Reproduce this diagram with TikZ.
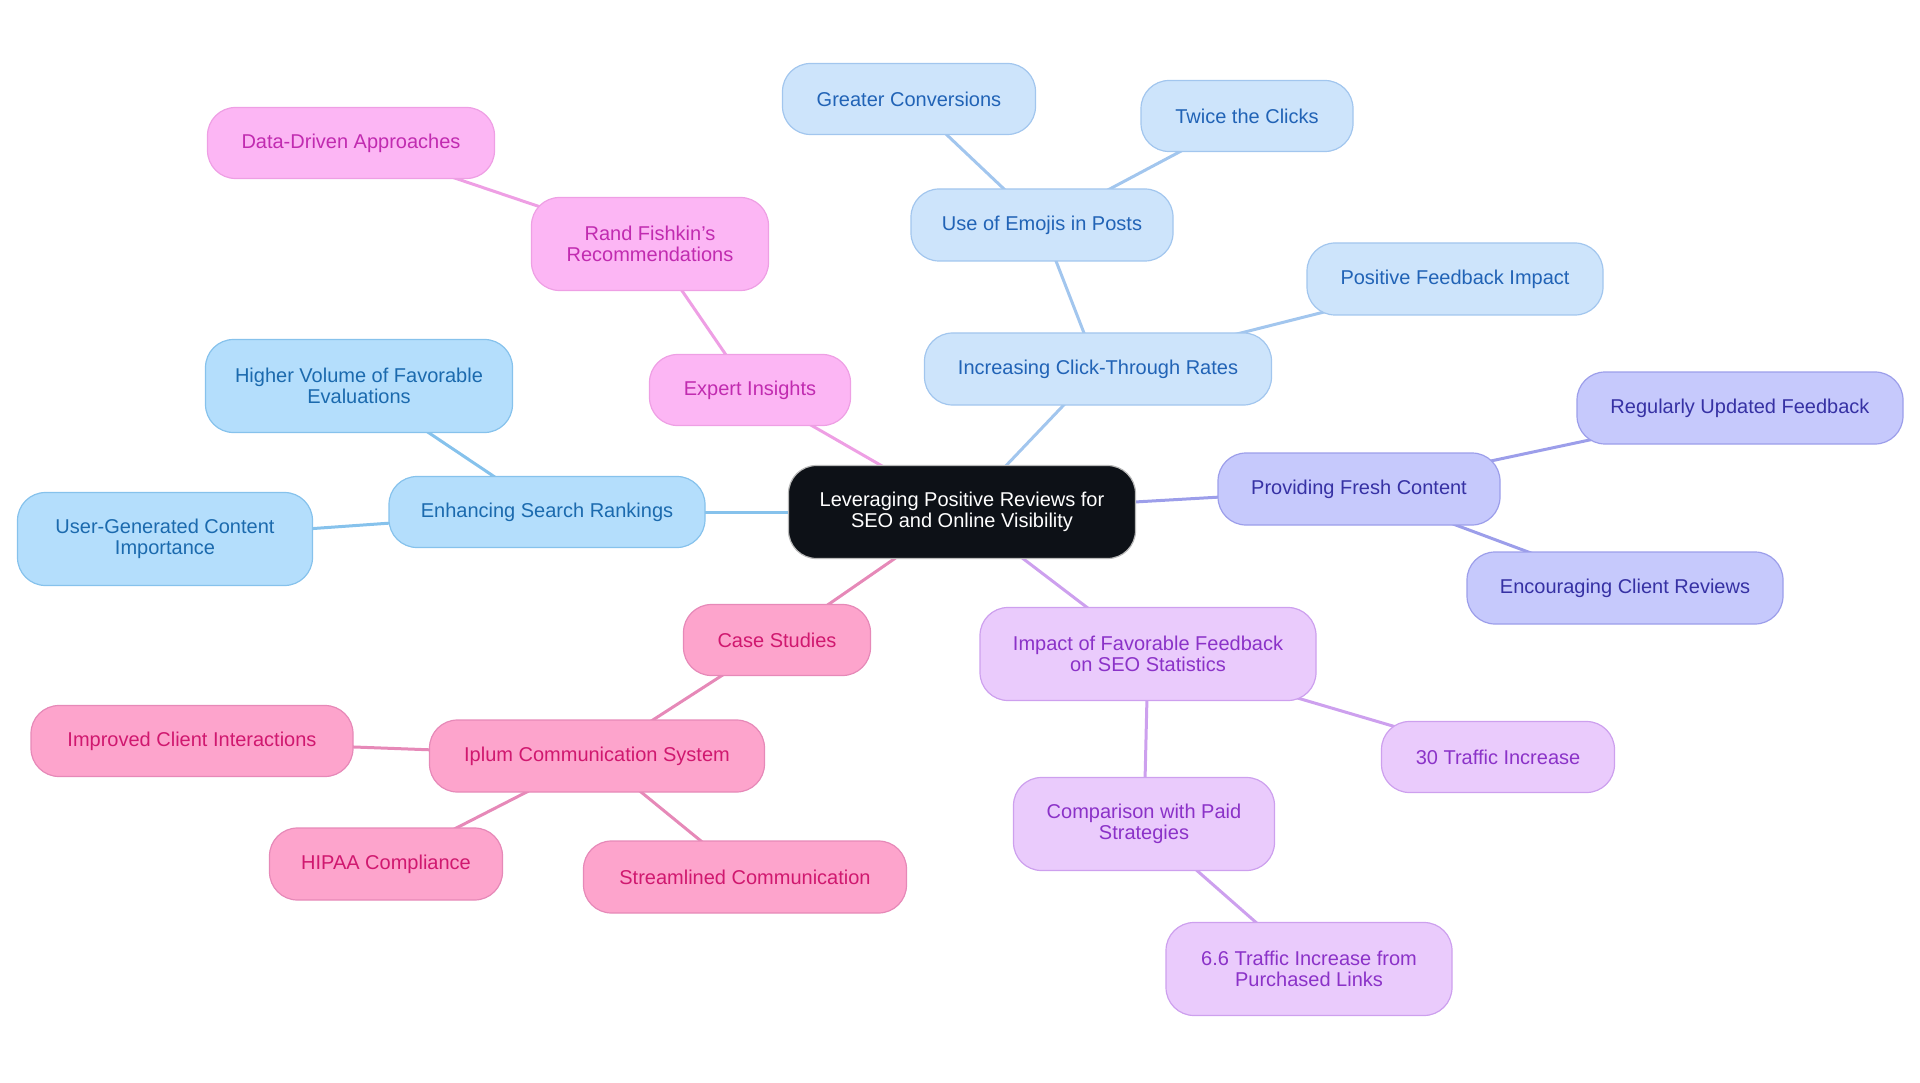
\documentclass[tikz,border=0pt]{standalone}
\usepackage{fontspec}
\setmainfont{Liberation Sans}
\usetikzlibrary{backgrounds}

\definecolor{rootfill}{HTML}{0D1117}
\definecolor{mgFill}{HTML}{FCB6F4}\definecolor{mgLine}{HTML}{EE9FE4}\definecolor{mgText}{HTML}{C12BB0}
\definecolor{skFill}{HTML}{B4DEFC}\definecolor{skLine}{HTML}{86C2EC}\definecolor{skText}{HTML}{1B6AAE}
\definecolor{pbFill}{HTML}{CDE4FB}\definecolor{pbLine}{HTML}{A2C6EE}\definecolor{pbText}{HTML}{2163B6}
\definecolor{lvFill}{HTML}{C6C9FC}\definecolor{lvLine}{HTML}{9C9EEA}\definecolor{lvText}{HTML}{3631A4}
\definecolor{prFill}{HTML}{EACBFC}\definecolor{prLine}{HTML}{CDA0EE}\definecolor{prText}{HTML}{8B32C8}
\definecolor{pkFill}{HTML}{FDA4CC}\definecolor{pkLine}{HTML}{E689B8}\definecolor{pkText}{HTML}{D0186F}

\begin{document}
\begin{tikzpicture}[
x=1pt, y=-1pt,
box/.style={rounded corners=28pt, line width=1.2pt, align=center, inner sep=0pt,
  font=\fontsize{20}{21.5}\selectfont},
wire/.style={line width=3pt},
rootbox/.style={box, fill=rootfill, draw=gray!55, text=white},
mgbox/.style={box, fill=mgFill, draw=mgLine, text=mgText},
skbox/.style={box, fill=skFill, draw=skLine, text=skText},
pbbox/.style={box, fill=pbFill, draw=pbLine, text=pbText},
lvbox/.style={box, fill=lvFill, draw=lvLine, text=lvText},
prbox/.style={box, fill=prFill, draw=prLine, text=prText},
pkbox/.style={box, fill=pkFill, draw=pkLine, text=pkText}
]
\useasboundingbox (0,0) rectangle (1920,1083);

% root
\node[rootbox, minimum width=347pt, minimum height=93pt] (root) at (962,512) {Leveraging Positive Reviews for\\SEO and Online Visibility};

% expert insights branch
\node[mgbox, minimum width=201pt, minimum height=71pt] (expert) at (750,390) {Expert Insights};
\node[mgbox, minimum width=237pt, minimum height=93pt] (fishkin) at (650,244) {Rand Fishkin's\\Recommendations};
\node[mgbox, minimum width=287pt, minimum height=71pt] (datadriven) at (351,143) {Data-Driven Approaches};

% search rankings branch
\node[skbox, minimum width=316pt, minimum height=71pt] (rankings) at (547,512) {Enhancing Search Rankings};
\node[skbox, minimum width=307pt, minimum height=93pt] (volume) at (359,386) {Higher Volume of Favorable\\Evaluations};
\node[skbox, minimum width=295pt, minimum height=93pt] (ugc) at (165,539) {User-Generated Content\\Importance};

% click-through branch
\node[pbbox, minimum width=347pt, minimum height=72pt] (ctr) at (1098,369) {Increasing Click-Through Rates};
\node[pbbox, minimum width=262pt, minimum height=72pt] (emojis) at (1042,225) {Use of Emojis in Posts};
\node[pbbox, minimum width=253pt, minimum height=71pt] (conversions) at (909,99) {Greater Conversions};
\node[pbbox, minimum width=212pt, minimum height=71pt] (clicks) at (1247,116) {Twice the Clicks};
\node[pbbox, minimum width=296pt, minimum height=72pt] (posimpact) at (1455,279) {Positive Feedback Impact};

% fresh content branch
\node[lvbox, minimum width=282pt, minimum height=72pt] (fresh) at (1359,489) {Providing Fresh Content};
\node[lvbox, minimum width=326pt, minimum height=72pt] (updated) at (1740,408) {Regularly Updated Feedback};
\node[lvbox, minimum width=316pt, minimum height=72pt] (encourage) at (1625,588) {Encouraging Client Reviews};

% statistics branch
\node[prbox, minimum width=336pt, minimum height=93pt] (stats) at (1148,654) {Impact of Favorable Feedback\\on SEO Statistics};
\node[prbox, minimum width=233pt, minimum height=71pt] (traffic) at (1498,757) {30 Traffic Increase};
\node[prbox, minimum width=261pt, minimum height=93pt] (paid) at (1144,824) {Comparison with Paid\\Strategies};
\node[prbox, minimum width=286pt, minimum height=93pt] (purchased) at (1309,969) {6.6 Traffic Increase from\\Purchased Links};

% case studies branch
\node[pkbox, minimum width=187pt, minimum height=71pt] (cases) at (777,640) {Case Studies};
\node[pkbox, minimum width=335pt, minimum height=72pt] (iplum) at (597,756) {Iplum Communication System};
\node[pkbox, minimum width=322pt, minimum height=71pt] (interact) at (192,741) {Improved Client Interactions};
\node[pkbox, minimum width=233pt, minimum height=72pt] (hipaa) at (386,864) {HIPAA Compliance};
\node[pkbox, minimum width=323pt, minimum height=72pt] (streamlined) at (745,877) {Streamlined Communication};

\begin{scope}[on background layer]
\draw[wire, mgLine] (root.center) -- (expert.center);
\draw[wire, mgLine] (expert.center) -- (fishkin.center);
\draw[wire, mgLine] (fishkin.center) -- (datadriven.center);
\draw[wire, skLine] (root.center) -- (rankings.center);
\draw[wire, skLine] (rankings.center) -- (volume.center);
\draw[wire, skLine] (rankings.center) -- (ugc.center);
\draw[wire, pbLine] (root.center) -- (ctr.center);
\draw[wire, pbLine] (ctr.center) -- (emojis.center);
\draw[wire, pbLine] (emojis.center) -- (conversions.center);
\draw[wire, pbLine] (emojis.center) -- (clicks.center);
\draw[wire, pbLine] (ctr.center) -- (posimpact.center);
\draw[wire, lvLine] (root.center) -- (fresh.center);
\draw[wire, lvLine] (fresh.center) -- (updated.center);
\draw[wire, lvLine] (fresh.center) -- (encourage.center);
\draw[wire, prLine] (root.center) -- (stats.center);
\draw[wire, prLine] (stats.center) -- (traffic.center);
\draw[wire, prLine] (stats.center) -- (paid.center);
\draw[wire, prLine] (paid.center) -- (purchased.center);
\draw[wire, pkLine] (root.center) -- (cases.center);
\draw[wire, pkLine] (cases.center) -- (iplum.center);
\draw[wire, pkLine] (iplum.center) -- (interact.center);
\draw[wire, pkLine] (iplum.center) -- (hipaa.center);
\draw[wire, pkLine] (iplum.center) -- (streamlined.center);
\end{scope}
\end{tikzpicture}
\end{document}
